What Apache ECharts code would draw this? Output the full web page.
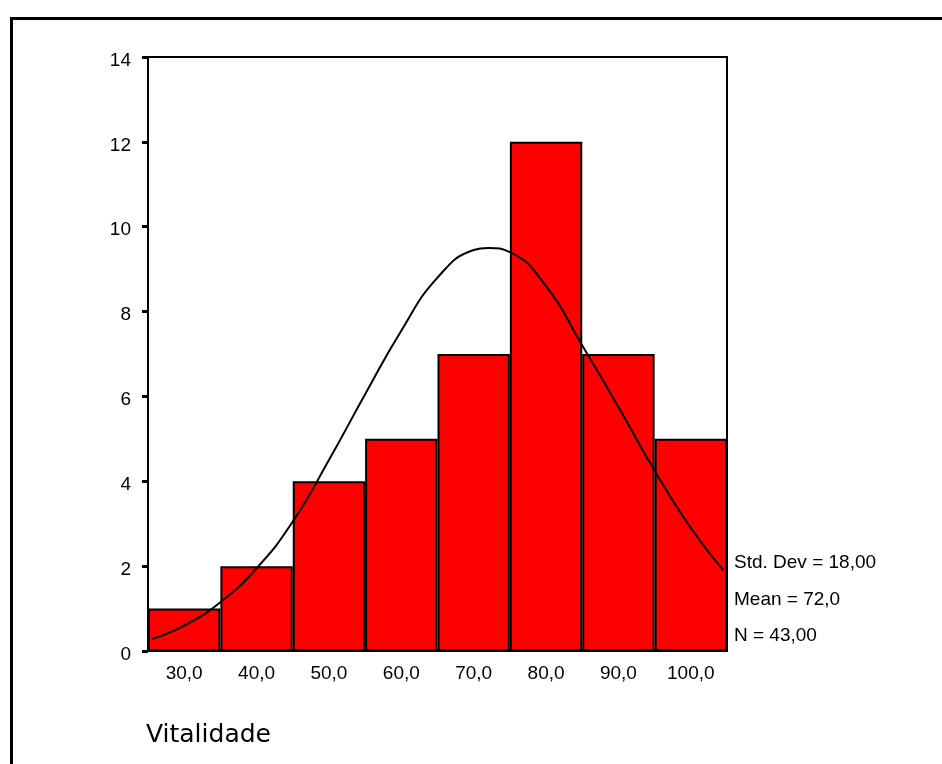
<!DOCTYPE html>
<html>
<head>
<meta charset="utf-8">
<script src="https://cdn.jsdelivr.net/npm/echarts@6/dist/echarts.min.js"></script>
<style>
html,body{margin:0;padding:0;background:#fff;}
#chart{width:942px;height:764px;}
</style>
</head>
<body>
<div id="chart"></div>
<script>
// Histogram bins (midpoints) and counts
var categories = ['30,0', '40,0', '50,0', '60,0', '70,0', '80,0', '90,0', '100,0'];
var counts = [1, 2, 4, 5, 7, 12, 7, 5];
// Normal curve, values
var curveX = [25.5, 30, 35, 40, 45, 50, 55, 60, 65, 70, 72, 75, 80, 85, 90, 95, 100, 104.5];
var curveY = [0.28, 0.6, 1.15, 1.95, 3.05, 4.5, 6.05, 7.55, 8.8, 9.45, 9.5, 9.4, 8.6, 7.2, 5.75, 4.25, 2.9, 1.9];
var yTicks = [0, 2, 4, 6, 8, 10, 12, 14];
var statsLines = ['Std. Dev = 18,00', 'Mean = 72,0', 'N = 43,00'];
var xTitle = 'Vitalidade';

var curveData = curveX.map(function (x, i) { return [x, curveY[i]]; });
var font = '"Liberation Sans", Arial, sans-serif';

var chart = echarts.init(document.getElementById('chart'), null, {renderer: 'canvas'});
var statsTops = [553, 590, 626];
var statsGraphics = statsLines.map(function (t, i) {
  return {
    type: 'text', left: 734, top: statsTops[i],
    style: {text: t, font: '19px ' + font, fill: '#000'}
  };
});
chart.setOption({
  animation: false,
  backgroundColor: '#fff',
  grid: {left: 148, top: 57, width: 579, height: 594, show: true, borderColor: '#000', borderWidth: 2, backgroundColor: 'transparent'},
  xAxis: [{
    type: 'category', data: categories, boundaryGap: true,
    axisLine: {lineStyle: {color: '#000', width: 2}},
    axisTick: {alignWithLabel: true, length: 4, lineStyle: {color: '#000', width: 4}},
    axisLabel: {color: '#000', fontSize: 19, fontFamily: font, margin: 13, interval: 0},
    splitLine: {show: false}
  }, {
    type: 'value', min: 25, max: 105, show: false
  }],
  yAxis: {
    type: 'value', min: yTicks[0], max: yTicks[yTicks.length - 1], interval: 2,
    axisLine: {show: true, lineStyle: {color: '#000', width: 2}},
    axisTick: {show: true, length: 6, lineStyle: {color: '#000', width: 3}},
    axisLabel: {color: '#000', fontSize: 19, fontFamily: font, margin: 17, verticalAlign: 'top', lineHeight: 7},
    splitLine: {show: false}
  },
  series: [{
    type: 'bar', data: counts, xAxisIndex: 0, barCategoryGap: '0%',
    itemStyle: {color: '#ff0000', borderColor: '#000', borderWidth: 2}
  }, {
    type: 'line', data: curveData, xAxisIndex: 1, smooth: true, symbol: 'none',
    lineStyle: {color: '#000', width: 2}, z: 5
  }],
  graphic: [{
    type: 'rect', left: 9, top: 16, z: -1,
    shape: {x: 0, y: 0, width: 1000, height: 1000},
    style: {fill: 'none', stroke: '#000', lineWidth: 3}
  }, {
    type: 'text', left: 146, top: 723,
    style: {text: xTitle, font: '25px "DejaVu Sans", sans-serif', fill: '#000'}
  }].concat(statsGraphics)
});
</script>
</body>
</html>
